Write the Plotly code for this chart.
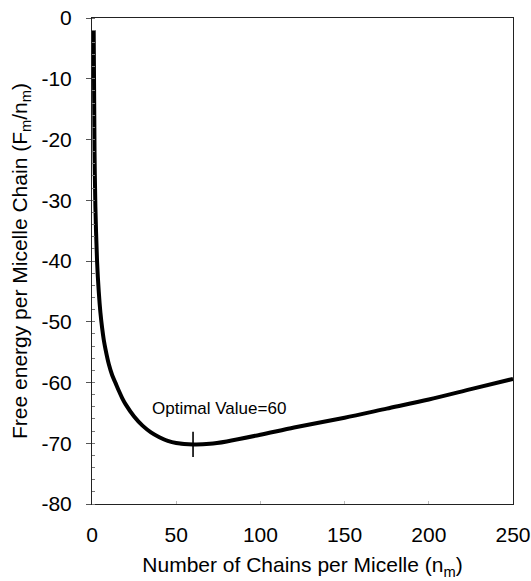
import plotly.graph_objects as go

# Data
n_chains = [1, 1.5, 2, 3, 4, 5, 6, 7, 8, 10, 12, 14, 16, 18, 20, 25, 30, 35, 40, 45,
            50, 60, 70, 80, 100, 120, 150, 175, 200, 225, 250]
free_energy = [-2, -22, -31, -40, -45, -48.5, -51, -53, -54.5, -57, -58.8, -60.1,
               -61.4, -62.6, -63.6, -65.6, -67.1, -68.2, -69.0, -69.6,
               -69.95, -70.2, -70.1, -69.7, -68.6, -67.4, -65.8, -64.3, -62.8,
               -61.1, -59.4]
optimal_n = [60]
optimal_f = [-70.2]
annotation_text = "Optimal Value=60"
x_ticks = [0, 50, 100, 150, 200, 250]
y_ticks = [0, -10, -20, -30, -40, -50, -60, -70, -80]
y_tick_labels = ["0", "-10", "-20", "-30", "-40", "-50", "-60", "-70", "-80"]

FONT = "Liberation Sans, Arial, sans-serif"

fig = go.Figure()
fig.add_trace(go.Scatter(
    x=n_chains, y=free_energy, mode="lines",
    line=dict(color="black", width=4, shape="spline", smoothing=0.8),
    showlegend=False, hoverinfo="skip"))
fig.add_trace(go.Scatter(
    x=optimal_n, y=optimal_f, mode="markers",
    marker=dict(symbol="cross-thin-open", size=18, color="black",
                line=dict(color="black", width=1.6)),
    showlegend=False, hoverinfo="skip"))

fig.add_annotation(x=optimal_n[0], y=optimal_f[0], xref="x", yref="y",
                   text=annotation_text, showarrow=False,
                   xshift=26, yshift=36,
                   font=dict(family=FONT, size=17, color="black"))

fig.update_layout(
    width=531, height=581,
    margin=dict(l=92, r=18, t=18, b=77, pad=0),
    paper_bgcolor="white", plot_bgcolor="white",
    font=dict(family=FONT, size=20, color="black"),
)
fig.update_xaxes(
    range=[0, 250], tickvals=x_ticks, ticktext=[str(v) for v in x_ticks],
    showgrid=False, zeroline=False, automargin=False,
    showline=True, linecolor="#222", linewidth=1, mirror=True,
    ticks="inside", ticklen=3, tickcolor="#bbb",
    ticklabelstandoff=12,
    tickfont=dict(family=FONT, size=21, color="black"),
    title=dict(text="Number of Chains per Micelle (n<sub>m</sub>)",
               font=dict(family=FONT, size=21, color="black"), standoff=12),
)
fig.update_yaxes(
    range=[-80, 0], tickvals=y_ticks, ticktext=y_tick_labels,
    showgrid=False, zeroline=False, automargin=False,
    showline=True, linecolor="#222", linewidth=1, mirror=True,
    ticks="outside", ticklen=5, tickcolor="#555",
    ticklabelstandoff=10,
    minor=dict(dtick=2, tick0=0, ticks="inside", ticklen=3, tickcolor="#777"),
    tickfont=dict(family=FONT, size=21, color="black"),
    title=dict(text="Free energy per Micelle Chain (F<sub>m</sub>/n<sub>m</sub>)",
               font=dict(family=FONT, size=21, color="black"), standoff=8),
)

fig.write_html("out.html")
